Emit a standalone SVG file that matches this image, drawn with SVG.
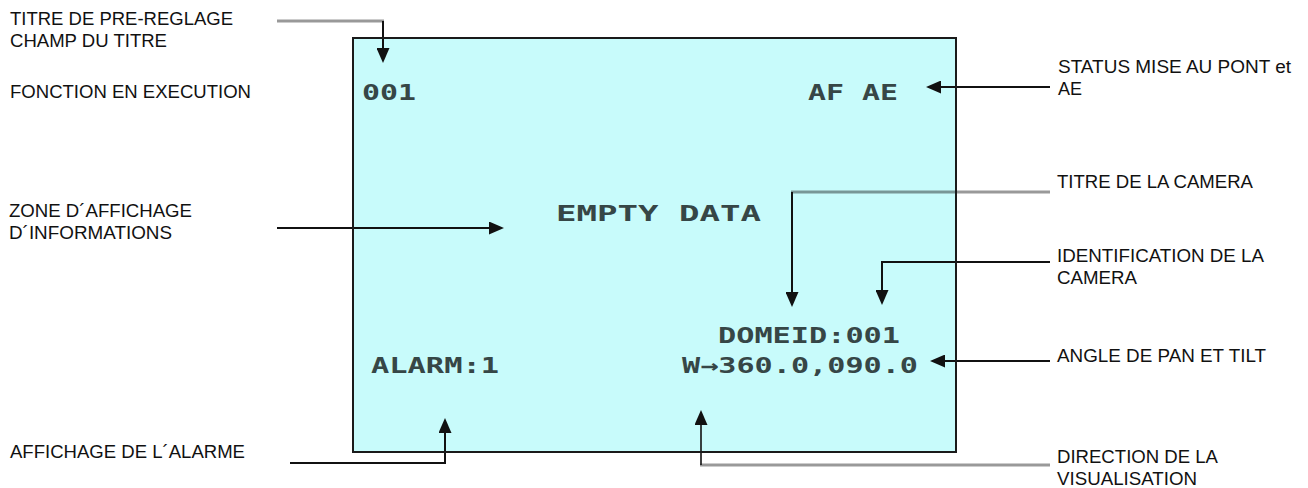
<svg xmlns="http://www.w3.org/2000/svg" width="1308" height="488" viewBox="0 0 1308 488">
<style>
.lbl{font-family:"Liberation Sans",Arial,sans-serif;font-size:17.5px;fill:#111}
.osd{font-family:"DejaVu Sans Mono",monospace;font-weight:bold;font-size:22px;fill:#364646}
.ln{fill:none;stroke:#111;stroke-width:2}
.gr{fill:none;stroke:#000;stroke-opacity:0.4;stroke-width:3}
</style>
<defs>
<marker id="ah" markerUnits="userSpaceOnUse" viewBox="0 0 15 13" refX="1" refY="6.5" markerWidth="15" markerHeight="13" orient="auto">
<path d="M0,0 L15,6.5 L0,13 z" fill="#111"/>
</marker>
</defs>
<rect width="1308" height="488" fill="#fff"/>
<g id="screen">
<rect x="353" y="38" width="603" height="414" fill="#c8fbfb"/>
<text class="osd" x="362" y="100" textLength="54" lengthAdjust="spacingAndGlyphs">001</text>
<text class="osd" x="808" y="100" textLength="90" lengthAdjust="spacingAndGlyphs">AF AE</text>
<text class="osd" x="556" y="221" textLength="205" lengthAdjust="spacingAndGlyphs">EMPTY DATA</text>
<text class="osd" x="718" y="343" textLength="182" lengthAdjust="spacingAndGlyphs">DOMEID:001</text>
<text class="osd" x="682" y="373" textLength="236" lengthAdjust="spacingAndGlyphs">W→360.0,090.0</text>
<text class="osd" x="371" y="373" textLength="128" lengthAdjust="spacingAndGlyphs">ALARM:1</text>
</g>
<g id="connectors">
<path class="gr" d="M277,21 H384"/>
<path class="ln" d="M383,21 V49" marker-end="url(#ah)"/>
<path class="ln" d="M1050,87 H940" marker-end="url(#ah)"/>
<path class="ln" d="M277,228 H490" marker-end="url(#ah)"/>
<path class="gr" d="M1050,192 H791"/>
<path class="ln" d="M792,192 V293" marker-end="url(#ah)"/>
<path class="ln" d="M1050,262 H882 V291" marker-end="url(#ah)"/>
<path class="ln" d="M1050,361 H944" marker-end="url(#ah)"/>
<path class="gr" d="M1050,465 H700"/>
<path class="ln" d="M701,465 V424" stroke-opacity="0.8" marker-end="url(#ah)"/>
<path class="ln" d="M290,463 H445 V432" marker-end="url(#ah)"/>
</g>
<rect x="353" y="38" width="603" height="414" fill="none" stroke="#1a1a1a" stroke-width="2"/>
<g id="label-titre-preset">
<text class="lbl" x="10" y="25" textLength="223" lengthAdjust="spacingAndGlyphs">TITRE DE PRE-REGLAGE</text>
<text class="lbl" x="10" y="47" textLength="157" lengthAdjust="spacingAndGlyphs">CHAMP DU TITRE</text>
</g>
<g id="label-fonction">
<text class="lbl" x="10" y="98" textLength="241" lengthAdjust="spacingAndGlyphs">FONCTION EN EXECUTION</text>
</g>
<g id="label-zone">
<text class="lbl" x="9" y="217" textLength="183" lengthAdjust="spacingAndGlyphs">ZONE D´AFFICHAGE</text>
<text class="lbl" x="9" y="239" textLength="163" lengthAdjust="spacingAndGlyphs">D´INFORMATIONS</text>
</g>
<g id="label-alarme">
<text class="lbl" x="10" y="458" textLength="235" lengthAdjust="spacingAndGlyphs">AFFICHAGE DE L´ALARME</text>
</g>
<g id="label-status">
<text class="lbl" x="1058" y="73" textLength="233" lengthAdjust="spacingAndGlyphs">STATUS MISE AU PONT et</text>
<text class="lbl" x="1058" y="95" textLength="24" lengthAdjust="spacingAndGlyphs">AE</text>
</g>
<g id="label-titre-camera">
<text class="lbl" x="1057" y="188" textLength="196" lengthAdjust="spacingAndGlyphs">TITRE DE LA CAMERA</text>
</g>
<g id="label-identification">
<text class="lbl" x="1057" y="262" textLength="207" lengthAdjust="spacingAndGlyphs">IDENTIFICATION DE LA</text>
<text class="lbl" x="1057" y="284" textLength="80" lengthAdjust="spacingAndGlyphs">CAMERA</text>
</g>
<g id="label-angle">
<text class="lbl" x="1057" y="362" textLength="209" lengthAdjust="spacingAndGlyphs">ANGLE DE PAN ET TILT</text>
</g>
<g id="label-direction">
<text class="lbl" x="1057" y="463" textLength="161" lengthAdjust="spacingAndGlyphs">DIRECTION DE LA</text>
<text class="lbl" x="1057" y="485" textLength="140" lengthAdjust="spacingAndGlyphs">VISUALISATION</text>
</g>
</svg>
